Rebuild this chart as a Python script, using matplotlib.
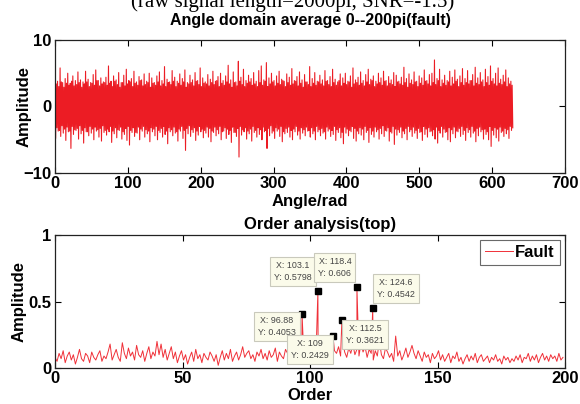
import numpy as np
import matplotlib
matplotlib.use("Agg")
import matplotlib.pyplot as plt

# ---------------- data ----------------
# Top panel: angle-domain averaged signal, read as outer swings (with spikes)
sig_upper = [
    4.5, 3.8, 5.8, 3.6, 4.2, 5.0, 3.5, 4.6, 3.9, 5.2, 4.0, 3.7, 5.3, 4.1, 3.6, 4.8, 5.5, 3.9, 4.3, 3.7,
    4.4, 6.1, 3.8, 4.6, 4.0, 5.1, 3.6, 4.7, 5.6, 3.9, 4.2, 5.3, 3.7, 4.5, 4.0, 4.9, 3.8, 5.0, 4.3, 3.6,
    4.6, 5.2, 3.9, 6.0, 4.1, 3.7, 5.4, 4.4, 3.8, 4.9, 4.2, 5.5, 3.6, 4.7, 4.0, 5.1, 3.9, 5.8, 4.3, 3.7,
    4.8, 4.1, 5.3, 3.8, 4.5, 5.0, 3.9, 4.6, 6.2, 4.0, 5.2, 3.7, 6.8, 4.4, 5.6, 3.9, 4.7, 4.2, 5.1, 3.8,
    5.4, 6.1, 4.0, 6.6, 4.3, 5.0, 3.9, 4.6, 5.3, 4.1, 3.8, 4.9, 4.4, 5.7, 3.9, 4.5, 5.2, 4.0, 4.8, 3.7,
    6.0, 4.2, 5.1, 3.8, 4.7, 4.0, 5.4, 3.9, 4.5, 5.6, 4.1, 3.7, 4.9, 4.3, 5.0, 3.8, 4.6, 5.8, 4.0, 4.4,
    5.2, 3.9, 4.8, 5.6, 4.1, 4.6, 3.8, 5.0, 4.3, 5.3, 3.9, 4.5, 4.0, 5.1, 4.7, 3.8, 4.4, 5.9, 4.2, 4.9,
    4.0, 5.2, 3.8, 4.6, 4.3, 5.5, 3.9, 4.8, 5.0, 7.0, 4.2, 5.6, 4.0, 4.7, 3.9, 5.3, 4.4, 5.5, 4.1, 4.6,
    5.7, 4.2, 5.4, 3.9, 4.8, 5.9, 4.3, 5.1, 4.0, 5.6, 4.5, 6.1, 4.2, 5.0, 5.8, 4.1, 4.7, 5.5, 4.3, 3.8,
]
sig_lower = [
    -4.8, -3.7, -4.5, -4.0, -5.1, -3.8, -6.3, -4.2, -3.6, -4.9, -4.1, -5.5, -3.8, -4.4, -4.0, -5.0, -3.7, -4.6, -5.2, -3.9,
    -4.3, -3.8, -5.4, -4.1, -4.7, -3.6, -4.9, -4.2, -5.1, -5.8, -3.9, -4.5, -4.0, -5.0, -3.7, -4.6, -4.1, -5.3, -3.8, -4.4,
    -5.0, -3.9, -4.6, -4.2, -5.6, -3.8, -4.4, -4.0, -5.2, -3.7, -4.8, -6.6, -4.1, -4.5, -3.9, -5.1, -4.3, -3.8, -4.7, -4.0,
    -4.6, -5.3, -3.9, -4.4, -4.1, -5.0, -3.7, -4.8, -4.2, -5.4, -3.9, -4.5, -7.6, -4.3, -3.8, -4.9, -4.1, -5.2, -3.9, -4.6,
    -4.2, -5.0, -3.8, -6.3, -4.4, -4.0, -4.8, -3.7, -4.5, -5.3, -4.1, -3.9, -4.6, -5.0, -3.8, -4.3, -4.9, -4.0, -4.4, -3.7,
    -4.6, -4.1, -5.0, -3.8, -4.4, -4.0, -4.9, -3.7, -4.5, -4.2, -5.1, -3.9, -4.7, -5.6, -4.0, -4.4, -3.8, -4.8, -5.2, -4.1,
    -4.3, -5.0, -3.9, -5.4, -4.2, -4.6, -3.8, -4.9, -4.1, -4.5, -3.7, -5.2, -4.0, -5.7, -4.3, -3.9, -4.7, -4.1, -5.0, -3.8,
    -4.5, -4.0, -4.8, -3.9, -5.1, -4.2, -4.6, -3.8, -4.4, -4.9, -5.5, -4.0, -4.6, -3.9, -5.0, -5.3, -4.1, -4.7, -3.8, -4.5,
    -4.2, -5.1, -3.9, -4.6, -4.0, -5.3, -4.4, -3.8, -4.9, -4.2, -5.0, -6.0, -4.3, -4.7, -5.2, -3.9, -4.5, -4.1, -4.8, -3.6,
]
# inner (core) swings of the same signal
core_upper = [
    3.4, 3.0, 3.7, 2.9, 3.5, 3.2, 3.8, 3.1, 3.3, 3.6, 2.9, 3.4, 3.7, 3.0, 3.5, 3.2, 3.9, 3.1, 3.4, 3.6,
    3.2, 3.5, 3.0, 3.8, 3.3, 2.9, 3.6, 3.1, 3.4, 3.7, 3.0, 3.5, 3.2, 3.9, 3.1, 3.3, 3.6, 2.9, 3.5, 3.2,
    3.7, 3.1, 3.4, 3.0, 3.6, 3.3, 3.8, 3.0, 3.5, 3.2, 3.7, 2.9, 3.4, 3.6, 3.1, 3.8, 3.3, 3.0, 3.5, 3.4,
    3.1, 3.6, 3.3, 3.9, 3.0, 3.5, 3.2, 3.7, 3.4, 2.9, 3.6, 3.1, 3.8, 3.3, 3.0, 3.5, 3.7, 3.2, 3.4, 3.0,
    3.6, 3.2, 3.8, 3.0, 3.4, 3.7, 3.1, 3.5, 3.3, 3.9, 3.0, 3.6, 3.2, 3.4, 3.8, 3.1, 3.5, 2.9, 3.7, 3.3,
    3.0, 3.5, 3.2, 3.7, 3.4, 3.1, 3.8, 3.3, 3.0, 3.6, 3.2, 3.9, 3.1, 3.5, 3.3, 3.7, 2.9, 3.4, 3.6, 3.2,
    3.5, 3.1, 3.7, 3.3, 3.9, 3.0, 3.4, 3.6, 3.2, 3.8, 3.1, 3.5, 3.3, 3.0, 3.7, 3.4, 3.2, 3.6, 2.9, 3.5,
    3.3, 3.7, 3.0, 3.5, 3.2, 3.8, 3.4, 3.1, 3.6, 3.3, 3.9, 3.0, 3.5, 3.2, 3.7, 3.1, 3.4, 3.8, 3.0, 3.6,
    3.2, 3.6, 3.4, 3.9, 3.1, 3.5, 3.3, 3.7, 3.0, 3.6, 3.2, 3.8, 3.4, 3.1, 3.5, 3.3, 3.7, 3.0, 3.4, 3.2,
]
core_lower = [
    -3.2, -3.6, -2.9, -3.4, -3.1, -3.7, -3.0, -3.5, -3.3, -2.9, -3.6, -3.2, -3.8, -3.0, -3.4, -3.1, -3.5, -3.3, -2.9, -3.6,
    -3.4, -3.0, -3.7, -3.2, -3.5, -3.1, -3.8, -3.3, -3.0, -3.6, -3.2, -3.9, -3.1, -3.4, -3.0, -3.5, -3.7, -3.2, -3.4, -3.0,
    -3.6, -3.3, -3.0, -3.7, -3.2, -3.5, -3.1, -3.8, -3.4, -3.0, -3.6, -3.3, -2.9, -3.5, -3.2, -3.7, -3.0, -3.4, -3.6, -3.1,
    -3.3, -3.7, -3.1, -3.5, -3.0, -3.8, -3.2, -3.4, -3.6, -3.1, -3.9, -3.3, -3.0, -3.5, -3.2, -3.7, -3.4, -3.0, -3.6, -3.2,
    -3.5, -3.1, -3.6, -3.3, -2.9, -3.7, -3.2, -3.4, -3.0, -3.8, -3.3, -3.1, -3.6, -3.4, -3.0, -3.7, -3.2, -3.5, -3.1, -3.6,
    -3.2, -3.7, -3.0, -3.5, -3.3, -3.8, -3.1, -3.4, -3.6, -3.0, -3.5, -3.2, -3.9, -3.1, -3.4, -3.6, -3.0, -3.3, -3.7, -3.2,
    -3.4, -3.0, -3.6, -3.2, -3.7, -3.1, -3.5, -3.3, -2.9, -3.6, -3.2, -3.8, -3.0, -3.4, -3.5, -3.1, -3.7, -3.3, -3.0, -3.5,
    -3.1, -3.6, -3.3, -3.8, -3.0, -3.4, -3.2, -3.7, -3.5, -3.1, -3.6, -3.0, -3.4, -3.8, -3.2, -3.5, -3.1, -3.7, -3.3, -3.0,
    -3.6, -3.2, -3.5, -3.0, -3.7, -3.3, -3.1, -3.5, -3.4, -3.8, -3.0, -3.6, -3.2, -3.4, -3.1, -3.7, -3.3, -3.5, -3.0, -3.2,
]
angle_max = 200 * np.pi

# Bottom panel: order spectrum (noise floor, step 0.8 order) and marked peaks
order_step = 0.8
spec_noise = [
    0.08, 0.05, 0.11, 0.07, 0.13, 0.04, 0.09, 0.12, 0.06, 0.10, 0.03, 0.08, 0.14, 0.07, 0.05, 0.11, 0.09, 0.04, 0.12, 0.08, 0.06, 0.10, 0.13, 0.05, 0.09,
    0.07, 0.12, 0.18, 0.06, 0.10, 0.14, 0.08, 0.05, 0.19, 0.11, 0.07, 0.15, 0.09, 0.12, 0.06, 0.17, 0.10, 0.08, 0.13, 0.05, 0.11, 0.16, 0.07, 0.12, 0.09,
    0.20, 0.10, 0.18, 0.08, 0.14, 0.06, 0.11, 0.16, 0.07, 0.12, 0.04, 0.09, 0.13, 0.06, 0.10, 0.03, 0.08, 0.12, 0.05, 0.14, 0.07, 0.10, 0.04, 0.11, 0.08,
    0.06, 0.12, 0.09, 0.05, 0.10, 0.02, 0.08, 0.13, 0.06, 0.11, 0.07, 0.14, 0.05, 0.09, 0.12, 0.06, 0.10, 0.16, 0.08, 0.11, 0.13, 0.07, 0.10, 0.05, 0.12,
    0.09, 0.14, 0.07, 0.11, 0.06, 0.13, 0.08, 0.10, 0.15, 0.05, 0.12, 0.09, 0.07, 0.14, 0.11, 0.06, 0.13, 0.10, 0.08, 0.16, 0.12, 0.15, 0.09, 0.13, 0.07,
    0.11, 0.16, 0.08, 0.13, 0.06, 0.12, 0.17, 0.09, 0.14, 0.10, 0.18, 0.07, 0.13, 0.11, 0.16, 0.09, 0.20, 0.12, 0.08, 0.15, 0.11, 0.18, 0.10, 0.14, 0.09,
    0.19, 0.12, 0.16, 0.08, 0.14, 0.11, 0.06, 0.13, 0.09, 0.21, 0.10, 0.07, 0.15, 0.12, 0.08, 0.11, 0.05, 0.24, 0.09, 0.13, 0.06, 0.10, 0.15, 0.08, 0.12,
    0.17, 0.11, 0.07, 0.13, 0.09, 0.05, 0.12, 0.08, 0.10, 0.04, 0.11, 0.07, 0.09, 0.13, 0.06, 0.10, 0.05, 0.08, 0.11, 0.04, 0.09, 0.07, 0.12, 0.05, 0.08,
    0.03, 0.07, 0.10, 0.05, 0.09, 0.06, 0.11, 0.04, 0.08, 0.10, 0.05, 0.07, 0.09, 0.04, 0.08, 0.06, 0.10, 0.05, 0.07, 0.03, 0.09, 0.06, 0.08, 0.04, 0.07,
    0.05, 0.09, 0.06, 0.10, 0.04, 0.08, 0.07, 0.11, 0.05, 0.09, 0.06, 0.10, 0.04, 0.08, 0.11, 0.06, 0.09, 0.05, 0.10, 0.07, 0.09, 0.05, 0.11, 0.06, 0.08,
]
peak_x = [96.88, 103.1, 109, 112.5, 118.4, 124.6]
peak_y = [0.4053, 0.5798, 0.2429, 0.3621, 0.606, 0.4542]
peak_labels = ["X: 96.88\nY: 0.4053", "X: 103.1\nY: 0.5798", "X: 109\nY: 0.2429",
               "X: 112.5\nY: 0.3621", "X: 118.4\nY: 0.606", "X: 124.6\nY: 0.4542"]

# ---------------- build series ----------------
n = len(sig_upper)
sig = np.empty(4 * n)
sig[0::4] = sig_upper
sig[1::4] = sig_lower
sig[2::4] = core_upper
sig[3::4] = core_lower
ang = np.linspace(0, angle_max, 4 * n)

ox = np.arange(len(spec_noise)) * order_step
all_x = np.concatenate([ox, peak_x])
all_y = np.concatenate([spec_noise, peak_y])
idx = np.argsort(all_x)
spec_x, spec_y = all_x[idx], all_y[idx]

# ---------------- figure ----------------
plt.rcParams['font.family'] = ['Liberation Sans', 'DejaVu Sans']
fig = plt.figure(figsize=(5.8, 4.04), dpi=100)
fig.patch.set_facecolor('white')

W, H = 580, 404
def rect(l, t, r, b):
    return [l / W, 1 - b / H, (r - l) / W, (b - t) / H]

fig.text(0.505, 1 - 7 / H, "(raw signal length=2000pi, SNR=-1.5)", ha='center', va='baseline',
         fontsize=15, family=['Liberation Serif', 'DejaVu Serif'])

def style(ax):
    ax.tick_params(direction='in', top=True, right=True, length=4, width=0.8,
                   labelsize=12, pad=2.5)
    for lab in ax.get_xticklabels() + ax.get_yticklabels():
        lab.set_fontweight('bold')
    for s in ax.spines.values():
        s.set_linewidth(0.9)
        s.set_color('#222222')

# top panel
ax1 = fig.add_axes(rect(55, 40, 565, 173))
ax1.plot(ang, sig, color='#ec1c24', lw=0.8)
ax1.set_xlim(0, 700)
ax1.set_ylim(-10, 10)
ax1.set_xticks([0, 100, 200, 300, 400, 500, 600, 700])
ax1.set_yticks([-10, 0, 10])
style(ax1)
ax1.set_title("Angle domain average 0--200pi(fault)", fontsize=11.5, fontweight='bold', pad=10.5)
ax1.set_xlabel("Angle/rad", fontsize=12, fontweight='bold', labelpad=2)
ax1.set_ylabel("Amplitude", fontsize=12, fontweight='bold')
ax1.yaxis.set_label_coords(-0.045, 0.5)

# bottom panel
ax2 = fig.add_axes(rect(55, 235, 565, 368))
ax2.plot(spec_x, spec_y, color='#f03038', lw=0.7, label='Fault')
ax2.plot(peak_x, peak_y, 's', color='black', ms=5, zorder=5)
ax2.set_xlim(0, 200)
ax2.set_ylim(0, 1)
ax2.set_xticks([0, 50, 100, 150, 200])
ax2.set_yticks([0, 0.5, 1])
ax2.set_yticklabels(['0', '0.5', '1'])
style(ax2)
ax2.set_title("Order analysis(top)", fontsize=12, fontweight='bold', pad=4.3, x=0.52)
ax2.set_xlabel("Order", fontsize=12, fontweight='bold', labelpad=1)
ax2.set_ylabel("Amplitude", fontsize=12, fontweight='bold')
ax2.yaxis.set_label_coords(-0.055, 0.5)
leg = ax2.legend(loc='upper right', frameon=True, fancybox=False,
                 handlelength=1.7, borderpad=0.3, handletextpad=0.15,
                 borderaxespad=0.3, prop={'weight': 'bold', 'size': 12})
leg.get_frame().set_edgecolor('#444444')
leg.get_frame().set_linewidth(0.8)

# data-tip offsets in pixels (dx right, dy up) from marker to box centre
tip_offsets = [(-25, -12), (-25, 19), (-23, -14), (23, -14.5), (-22, 19.5), (23, 19)]
for px, py, lab, (dx, dy) in zip(peak_x, peak_y, peak_labels, tip_offsets):
    ax2.annotate(lab, xy=(px, py), xytext=(dx * 0.72, dy * 0.72), textcoords='offset points',
                 ha='center', va='center', fontsize=6.4, color='#444444', linespacing=1.45,
                 bbox=dict(boxstyle='square,pad=0.45', fc='#fbfbea', ec='#c9c9bc', lw=0.8),
                 zorder=6)

fig.savefig("out.png", dpi=100, facecolor='white')
